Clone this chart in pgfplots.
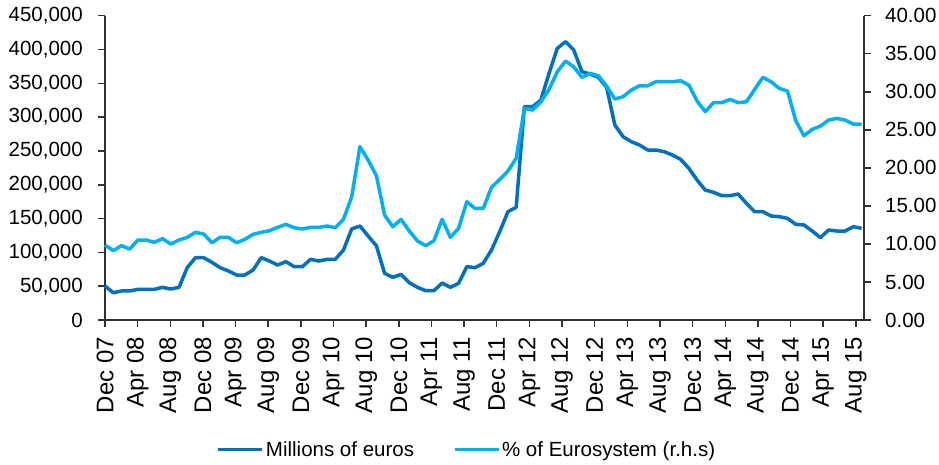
\documentclass[border=0pt]{standalone}
\usepackage{pgfplots}
\pgfplotsset{compat=1.18}
\usepackage{pgfplotstable}
\usepackage{fontspec}
\setmainfont{Liberation Sans}
\definecolor{darkb}{RGB}{0,112,192}
\definecolor{lightb}{RGB}{0,176,240}
\definecolor{axisc}{RGB}{50,50,50}
\pgfplotstableread{
i v p
0 50300 9.86
1 40400 9.11
2 42900 9.77
3 42900 9.33
4 45300 10.51
5 45300 10.51
6 45300 10.21
7 48300 10.69
8 45800 9.99
9 48300 10.51
10 77400 10.86
11 92200 11.52
12 92200 11.30
13 85300 10.16
14 77400 10.86
15 72500 10.86
16 66500 10.16
17 66500 10.60
18 73900 11.26
19 92200 11.52
20 87200 11.74
21 81300 12.18
22 86300 12.57
23 78900 12.13
24 78900 11.96
25 89700 12.18
26 87200 12.18
27 89700 12.35
28 89700 12.13
29 103500 13.23
30 134600 16.21
31 139000 22.78
32 124200 21.02
33 109900 18.97
34 69000 13.80
35 63100 12.26
36 67500 13.23
37 55200 11.70
38 48300 10.38
39 43400 9.77
40 43400 10.42
41 54700 13.23
42 48300 10.86
43 54200 12.05
44 78900 15.55
45 77400 14.67
46 83800 14.67
47 103500 17.43
48 130600 18.48
49 160200 19.58
50 166600 21.24
51 315500 27.81
52 315500 27.60
53 325300 28.69
54 364800 30.31
55 401700 32.63
56 411600 34.03
57 399300 33.29
58 367200 31.89
59 363800 32.41
60 358800 32.11
61 344100 30.75
62 288400 29.04
63 271100 29.35
64 263700 30.22
65 258800 30.79
66 251400 30.79
67 251400 31.32
68 248900 31.32
69 244000 31.32
70 237600 31.45
71 224300 30.88
72 207000 28.78
73 192200 27.38
74 188800 28.56
75 183900 28.56
76 183900 29.00
77 186300 28.56
78 172500 28.69
79 160200 30.31
80 160200 31.89
81 153800 31.32
82 152800 30.44
83 150300 30.09
84 141500 26.19
85 140500 24.22
86 131600 25.05
87 121800 25.49
88 133100 26.28
89 131600 26.50
90 131600 26.28
91 138000 25.76
92 135600 25.76
}\datatable
\pgfplotsset{
  common/.style={
    at={(105pt,144pt)}, anchor=south west,
    scale only axis, width=759pt, height=304.3pt,
    xmin=0, xmax=93,
    font=\fontsize{20.5}{24}\selectfont,
    /pgf/number format/assume math mode=true,
    tick align=outside,
    major tick length=7pt,
    every tick/.style={axisc, line width=1.5pt},
    axis line style={axisc, line width=1.5pt},
    clip=false,
  }
}
\begin{document}
\begin{tikzpicture}
\path[use as bounding box] (0,0) rectangle (939pt,464pt);
\begin{axis}[common,
  ymin=0, ymax=450000,
  axis x line*=bottom, axis y line*=left,
  ytick={0,50000,...,450000},
  scaled y ticks=false,
  yticklabel style={/pgf/number format/.cd, fixed, 1000 sep={,}, /tikz/.cd, inner xsep=15pt},
  xtick={0,4,...,92},
  xticklabels={Dec 07,Apr 08,Aug 08,Dec 08,Apr 09,Aug 09,Dec 09,Apr 10,Aug 10,Dec 10,Apr 11,Aug 11,Dec 11,Apr 12,Aug 12,Dec 12,Apr 13,Aug 13,Dec 13,Apr 14,Aug 14,Dec 14,Apr 15,Aug 15},
  xticklabel style={rotate=90, anchor=east, font=\fontsize{24}{28}\selectfont, inner xsep=10pt},
]
\addplot[darkb, line width=3.5pt, line join=round] table[x expr=\coordindex*1.0076, y=v] {\datatable};
\end{axis}
\begin{axis}[common,
  ymin=0, ymax=40,
  axis y line*=right, axis x line=none,
  ytick={0,5,...,40},
  yticklabel style={/pgf/number format/.cd, fixed, fixed zerofill, precision=2, /tikz/.cd, inner xsep=14pt},
  legend columns=2,
  legend style={draw=none, fill=none, at={(0.477,-0.427)}, anchor=center,
    font=\fontsize{20.5}{24}\selectfont,
    /tikz/every even column/.append style={column sep=37pt}},
  legend image code/.code={\draw[#1, line width=3pt] (0pt,0pt) -- (44pt,0pt);},
]
\addlegendimage{darkb}
\addlegendentry{Millions of euros}
\addplot[lightb, line width=3.5pt, line join=round] table[x expr=\coordindex*1.0076, y=p] {\datatable};
\addlegendentry{\% of Eurosystem (r.h.s)}
\end{axis}
\end{tikzpicture}
\end{document}
